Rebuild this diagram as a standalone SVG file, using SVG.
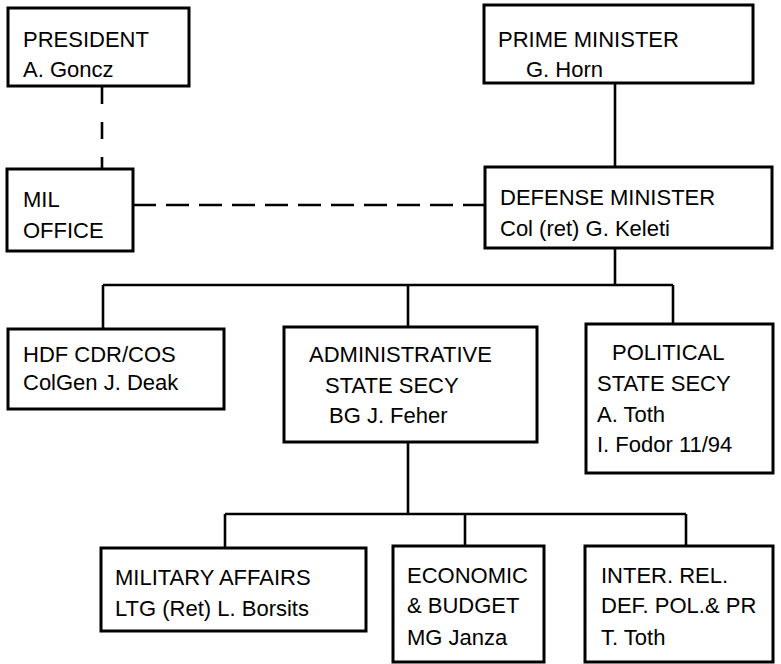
<svg xmlns="http://www.w3.org/2000/svg" width="781" height="664" viewBox="0 0 781 664">
<style>
.box{fill:#fff;stroke:#000;stroke-width:3}
.t{font-family:"Liberation Sans",Arial,Helvetica,sans-serif;font-size:22px;fill:#000}
.ln{fill:none;stroke:#000;stroke-width:2.6}
.dash{fill:none;stroke:#000;stroke-width:2.6;stroke-dasharray:23 10}
.vdash{fill:none;stroke:#000;stroke-width:2.6;stroke-dasharray:17 18}
</style>
<rect width="781" height="664" fill="#fff"/>
<g id="connectors">
<path class="vdash" d="M102 87 V169"/>
<path class="dash" d="M133 205 H485"/>
<path class="ln" d="M615 83 V167"/>
<path class="ln" d="M615 248 V285"/>
<path class="ln" d="M103 285 H673"/>
<path class="ln" d="M103 285 V329"/>
<path class="ln" d="M408 285 V327"/>
<path class="ln" d="M673 285 V324"/>
<path class="ln" d="M408 442 V514"/>
<path class="ln" d="M225 514 H686"/>
<path class="ln" d="M225 514 V548"/>
<path class="ln" d="M465 514 V546"/>
<path class="ln" d="M686 514 V546"/>
</g>
<g id="president">
<rect class="box" x="8" y="8" width="181" height="78"/>
<text class="t" x="23" y="47">PRESIDENT</text>
<text class="t" x="23" y="77">A. Goncz</text>
</g>
<g id="prime-minister">
<rect class="box" x="484" y="5" width="269" height="78"/>
<text class="t" x="498" y="47">PRIME MINISTER</text>
<text class="t" x="526" y="77">G. Horn</text>
</g>
<g id="mil-office">
<rect class="box" x="7" y="169" width="126" height="82"/>
<text class="t" x="23" y="207">MIL</text>
<text class="t" x="23" y="238">OFFICE</text>
</g>
<g id="defense-minister">
<rect class="box" x="485" y="167" width="287" height="81"/>
<text class="t" x="500" y="205">DEFENSE MINISTER</text>
<text class="t" x="500" y="236">Col (ret) G. Keleti</text>
</g>
<g id="hdf">
<rect class="box" x="8" y="329" width="216" height="80"/>
<text class="t" x="23" y="362">HDF CDR/COS</text>
<text class="t" x="23" y="390">ColGen J. Deak</text>
</g>
<g id="admin-secy">
<rect class="box" x="284" y="327" width="253" height="115"/>
<text class="t" x="309" y="362">ADMINISTRATIVE</text>
<text class="t" x="325" y="393">STATE SECY</text>
<text class="t" x="329" y="423">BG J. Feher</text>
</g>
<g id="political-secy">
<rect class="box" x="586" y="324" width="187" height="149"/>
<text class="t" x="612" y="360">POLITICAL</text>
<text class="t" x="597" y="391">STATE SECY</text>
<text class="t" x="597" y="422">A. Toth</text>
<text class="t" x="597" y="452">I. Fodor 11/94</text>
</g>
<g id="military-affairs">
<rect class="box" x="101" y="548" width="265" height="83"/>
<text class="t" x="115" y="585">MILITARY AFFAIRS</text>
<text class="t" x="115" y="616">LTG (Ret) L. Borsits</text>
</g>
<g id="economic-budget">
<rect class="box" x="393" y="546" width="151" height="116"/>
<text class="t" x="407" y="583">ECONOMIC</text>
<text class="t" x="407" y="613">&amp; BUDGET</text>
<text class="t" x="407" y="645">MG Janza</text>
</g>
<g id="inter-rel">
<rect class="box" x="585" y="546" width="188" height="116"/>
<text class="t" x="601" y="583">INTER. REL.</text>
<text class="t" x="601" y="613">DEF. POL.&amp; PR</text>
<text class="t" x="601" y="645">T. Toth</text>
</g>
</svg>
